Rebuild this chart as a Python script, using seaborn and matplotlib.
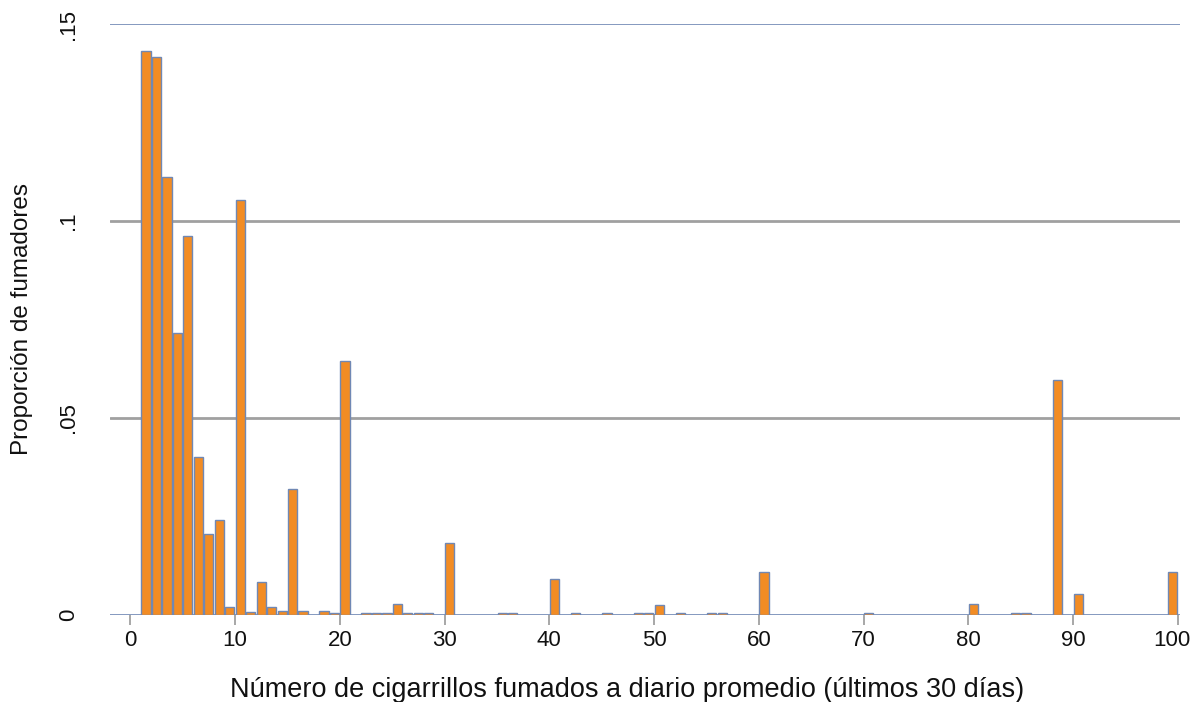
import seaborn as sns
import matplotlib
matplotlib.use("Agg")
import matplotlib.pyplot as plt
import matplotlib.transforms as mtransforms
import numpy as np
import pandas as pd

sns.set_theme(style="white")
plt.rcParams['font.family'] = ['Liberation Sans', 'DejaVu Sans']

# cigarettes per day (bar left edge) and share of smokers
cigarrillos = [1, 2, 3, 4, 5, 6, 7, 8, 9, 10, 11, 12, 13, 14, 15, 16,
               18, 19, 20, 22, 23, 24, 25, 26, 27, 28, 30, 35, 36,
               40, 42, 45, 48, 49, 50, 52, 55, 56, 60,
               70, 80, 84, 85, 88, 90, 99]
proporcion = [0.1432, 0.1416, 0.1112, 0.0715, 0.0962, 0.0399, 0.0204, 0.0239,
              0.0020, 0.1053, 0.0006, 0.0082, 0.0020, 0.0010, 0.0319, 0.0008,
              0.0010, 0.0003, 0.0644, 0.0003, 0.0003, 0.0005, 0.0026, 0.0003,
              0.0003, 0.0003, 0.0182, 0.0005, 0.0003,
              0.0090, 0.0003, 0.0003, 0.0003, 0.0003, 0.0024, 0.0003, 0.0003,
              0.0003, 0.0109,
              0.0003, 0.0026, 0.0003, 0.0003, 0.0596, 0.0053, 0.0107]

xticks = [0, 10, 20, 30, 40, 50, 60, 70, 80, 90, 100]
yticks = [0, 0.05, 0.10, 0.15]
ytick_labels = ["0", ".05", ".1", ".15"]

df = pd.DataFrame({"x": np.array(cigarrillos) + 0.5, "y": proporcion})

fig = plt.figure(figsize=(11.92, 7.02), dpi=100)
ax = fig.add_axes([0.0923, 0.1246, 0.8976, 0.8412])

ax.axhline(0.05, color="#a0a0a0", lw=2, zorder=0)
ax.axhline(0.10, color="#a0a0a0", lw=2, zorder=0)
ax.axhline(0.15, color="#7088b4", lw=1.2, zorder=0)
ax.axhline(0.0, color="#7088b4", lw=1.2, zorder=1)

sns.barplot(data=df, x="x", y="y", native_scale=True, width=0.88,
            color="#f28c24", saturation=1, edgecolor="#7088b4",
            linewidth=1.0, ax=ax, zorder=2)

ax.set_xlim(-1.93, 100.2)
ax.set_ylim(0, 0.15)
ax.set_xticks(xticks)
ax.set_xticklabels([str(t) for t in xticks])
ax.set_yticks(yticks)
ax.set_yticklabels(ytick_labels, rotation=90, va="center")

for s in ax.spines.values():
    s.set_visible(False)

ax.tick_params(axis="x", bottom=True, length=7, width=1.3, color="#a0a0a0",
               pad=4, labelsize=16, labelcolor="#111111")
ax.tick_params(axis="y", left=False, length=0, pad=22, labelsize=16,
               labelcolor="#111111")

# nudge the last tick label so it stays inside the canvas
last = ax.get_xticklabels()[-1]
last.set_transform(last.get_transform() +
                   mtransforms.ScaledTranslation(-4 / 72, 0, fig.dpi_scale_trans))

ax.set_xlabel("Número de cigarrillos fumados a diario promedio (últimos 30 días)",
              fontsize=19.5, color="#111111")
ax.xaxis.set_label_coords(0.483, -0.106)
ax.set_ylabel("Proporción de fumadores", fontsize=17.5, labelpad=18,
              color="#111111")

fig.savefig("out.png", dpi=100)
